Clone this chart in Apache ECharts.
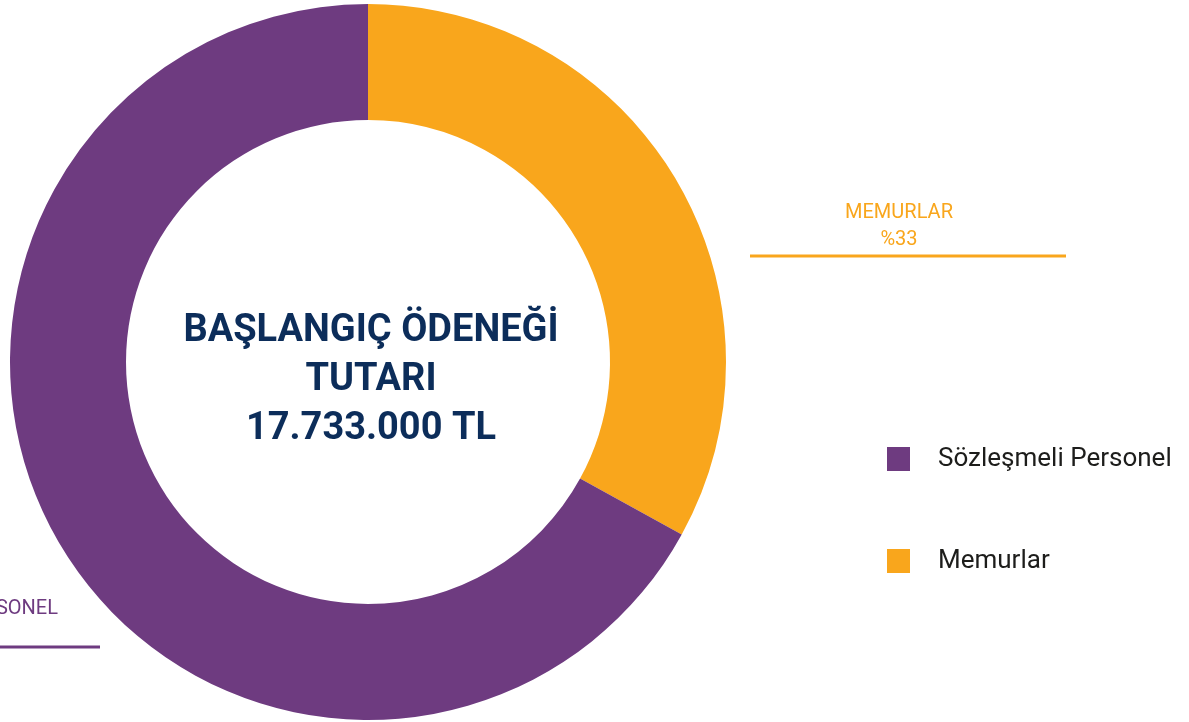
<!DOCTYPE html>
<html>
<head>
<meta charset="utf-8">
<script src="https://cdn.jsdelivr.net/npm/echarts@6/dist/echarts.min.js"></script>
<style>
  html, body { margin: 0; padding: 0; background: #ffffff; }
  #chart { width: 1189px; height: 722px; }
</style>
</head>
<body>
<div id="chart"></div>
<script>
// Budget split of the initial allowance between staff groups
const categories = ['Memurlar', 'Sözleşmeli Personel'];
const shares = [33, 67];
const legendOrder = ['Sözleşmeli Personel', 'Memurlar'];
const centerTitle = 'BAŞLANGIÇ ÖDENEĞİ\nTUTARI\n17.733.000 TL';

const colors = { 'Memurlar': '#f9a61c', 'Sözleşmeli Personel': '#6e3b80' };
const FONT = 'Roboto, "Noto Sans", sans-serif';

const chart = echarts.init(document.getElementById('chart'), null, { renderer: 'canvas' });

// Callout placement: label text sits above a flat underline
const callouts = {
  'Memurlar': { cx: 899, cy: 226, lineY: 256, x0: 750, x1: 1066 },
  'Sözleşmeli Personel': { right: 58, cy: 622, lineY: 647, x0: -216, x1: 100 }
};

chart.setOption({
  animation: false,
  title: {
    text: centerTitle,
    left: 366,
    top: 302,
    textAlign: 'center',
    textStyle: {
      fontFamily: FONT,
      fontSize: 38,
      fontWeight: 'bold',
      color: '#0c2d5a',
      lineHeight: 49
    }
  },
  legend: {
    orient: 'vertical',
    left: 887,
    top: 446,
    padding: 0,
    itemWidth: 23,
    itemHeight: 24,
    itemGap: 76,
    icon: 'rect',
    data: legendOrder,
    textStyle: {
      fontFamily: FONT,
      fontSize: 26,
      color: '#1d1d1b',
      padding: [0, 0, 0, 23]
    }
  },
  series: [{
    type: 'pie',
    center: [368, 362],
    radius: [242, 358],
    startAngle: 90,
    clockwise: true,
    silent: true,
    avoidLabelOverlap: false,
    data: categories.map((name, i) => ({
      name: name,
      value: shares[i],
      itemStyle: { color: colors[name] },
      label: { color: colors[name] },
      labelLine: { lineStyle: { color: colors[name] } }
    })),
    label: {
      show: true,
      position: 'outside',
      overflow: 'none',
      fontFamily: FONT,
      fontSize: 20,
      lineHeight: 27,
      align: 'center',
      formatter: p => p.name.toLocaleUpperCase('tr-TR') + '\n%' + p.percent
    },
    labelLine: {
      show: true,
      smooth: false,
      lineStyle: { width: 3 }
    },
    labelLayout: function (params) {
      const name = categories[params.dataIndex];
      const c = callouts[name];
      const w = params.labelRect.width;
      const cx = c.cx !== undefined ? c.cx : c.right - w / 2;
      return {
        x: cx,
        y: c.cy,
        align: 'center',
        verticalAlign: 'middle',
        labelLinePoints: [[c.x0, c.lineY], [c.x0, c.lineY], [c.x1, c.lineY]]
      };
    }
  }]
});
</script>
</body>
</html>
